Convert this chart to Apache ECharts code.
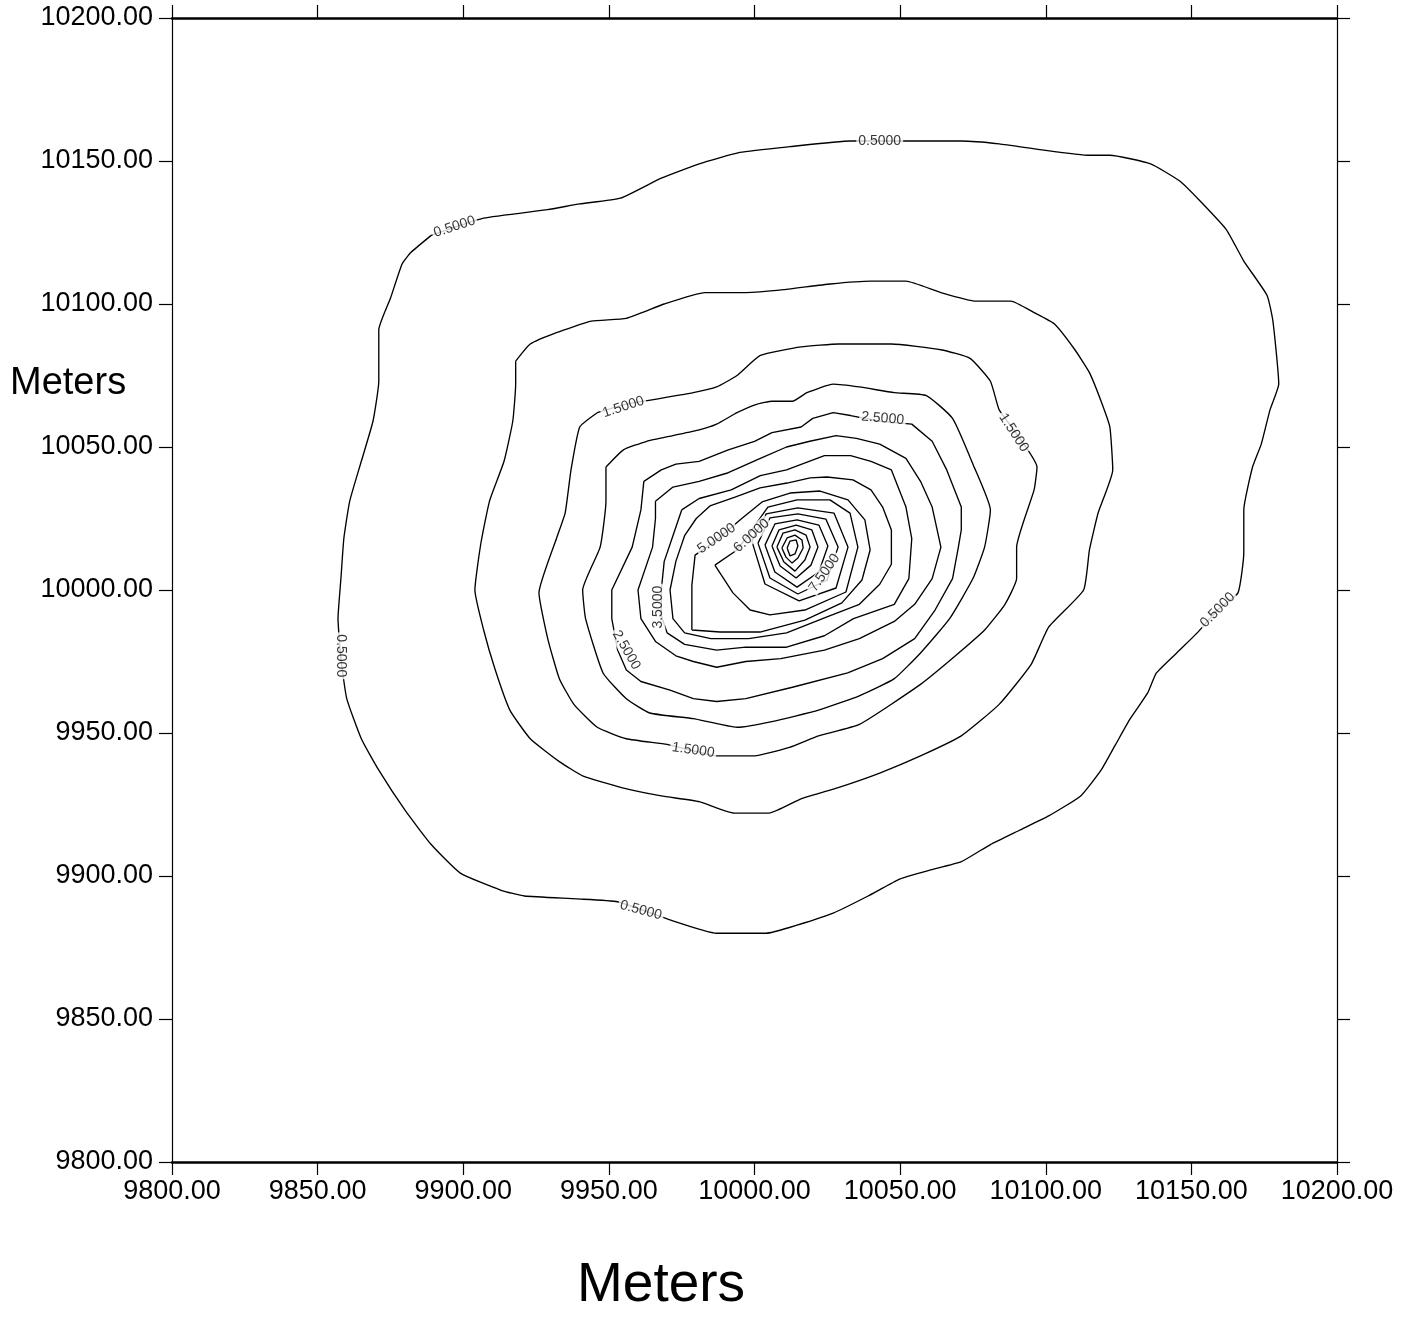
<!DOCTYPE html>
<html><head><meta charset="utf-8">
<script src="https://cdn.jsdelivr.net/npm/echarts@6/dist/echarts.min.js"></script>
<style>html,body{margin:0;padding:0;background:#fff}#chart{width:1416px;height:1333px}</style>
</head><body><div id="chart"></div>
<script>
// ---- axis ticks (meters) ----
const xTickValues = [9800, 9850, 9900, 9950, 10000, 10050, 10100, 10150, 10200];
const yTickValues = [9800, 9850, 9900, 9950, 10000, 10050, 10100, 10150, 10200];
const xAxisTitle = 'Meters';
const yAxisTitle = 'Meters';

// ---- contour rings (x, y in meters), outermost first ----
const ring05 = [[9889,10124],[9907,10130],[9929,10133],[9940,10135],[9954,10137],[9968,10144],[9981,10149],[9995,10153],[10012,10155],[10033,10157],[10050,10157],[10071,10157],[10084,10156],[10098,10154],[10115,10152],[10122,10152],[10136,10149],[10146,10143],[10153,10136],[10162,10126],[10168,10115],[10176,10103],[10178,10094],[10180,10072],[10177,10063],[10174,10051],[10171,10043],[10168,10028],[10168,10013],[10166,9999],[10159,9993],[10152,9985],[10146,9979],[10138,9971],[10135,9964],[10129,9955],[10124,9946],[10119,9937],[10112,9928],[10101,9921],[10091,9916],[10081,9911],[10071,9905],[10060,9902],[10050,9899],[10039,9893],[10027,9887],[10012,9882],[10004,9880],[9987,9880],[9970,9885],[9953,9891],[9939,9892],[9921,9893],[9913,9895],[9899,9901],[9889,9911],[9880,9923],[9871,9937],[9865,9948],[9860,9962],[9858,9976],[9857,9990],[9858,10004],[9859,10018],[9861,10031],[9865,10045],[9869,10059],[9871,10073],[9871,10091],[9875,10102],[9879,10114],[9882,10118],[9889,10124]];
const ring10 = [[9918,10080],[9923,10086],[9932,10090],[9944,10094],[9956,10095],[9969,10100],[9983,10104],[9997,10104],[10010,10105],[10026,10107],[10040,10108],[10052,10108],[10064,10104],[10076,10101],[10088,10101],[10096,10097],[10103,10093],[10110,10084],[10115,10076],[10119,10066],[10122,10057],[10123,10042],[10118,10027],[10115,10014],[10113,10000],[10101,9987],[10095,9974],[10084,9960],[10071,9949],[10057,9942],[10043,9936],[10029,9931],[10016,9927],[10005,9922],[9993,9922],[9981,9926],[9968,9928],[9954,9931],[9941,9935],[9933,9940],[9923,9948],[9916,9958],[9911,9972],[9907,9986],[9904,10000],[9906,10016],[9909,10031],[9914,10045],[9917,10059],[9918,10072],[9918,10080]];
const ring15 = [[9946,10062],[9956,10065],[9962,10066],[9979,10069],[9987,10071],[9994,10075],[10002,10082],[10016,10085],[10029,10086],[10047,10086],[10064,10084],[10074,10081],[10081,10073],[10084,10063],[10089,10056],[10097,10043],[10096,10035],[10090,10015],[10090,10004],[10086,9995],[10079,9986],[10069,9977],[10057,9967],[10036,9953],[10022,9949],[10012,9945],[10000,9942],[9987,9942],[9978,9944],[9970,9946],[9956,9948],[9946,9952],[9938,9960],[9933,9969],[9929,9983],[9926,9999],[9932,10018],[9935,10027],[9937,10042],[9940,10057],[9946,10062]];
const ring20 = [[9949,10043],[9955,10049],[9963,10052],[9972,10054],[9981,10056],[9987,10058],[9994,10062],[10001,10065],[10006,10066],[10013,10066],[10018,10069],[10027,10072],[10036,10071],[10048,10069],[10059,10068],[10068,10060],[10075,10044],[10081,10028],[10079,10015],[10075,10004],[10067,9990],[10057,9978],[10048,9969],[10036,9963],[10022,9958],[10006,9954],[9994,9952],[9979,9955],[9964,9957],[9956,9962],[9948,9971],[9942,9990],[9941,10000],[9947,10015],[9949,10031],[9949,10043]];
const ring25 = [[9962,10038],[9968,10042],[9973,10044],[9981,10045],[9991,10049],[10000,10052],[10006,10055],[10016,10057],[10020,10060],[10027,10062],[10033,10061],[10043,10059],[10054,10058],[10061,10052],[10066,10042],[10071,10029],[10071,10021],[10070,10015],[10068,10004],[10062,9993],[10055,9983],[10044,9976],[10032,9971],[10013,9966],[9997,9962],[9987,9961],[9979,9962],[9971,9965],[9961,9968],[9956,9972],[9953,9979],[9951,9990],[9951,10000],[9958,10015],[9961,10028],[9962,10038]];
const ring30 = [[9966,10031],[9972,10036],[9981,10038],[9991,10041],[10002,10046],[10011,10050],[10019,10052],[10028,10054],[10035,10053],[10043,10051],[10052,10046],[10057,10038],[10061,10029],[10064,10015],[10061,10004],[10055,9995],[10048,9989],[10036,9983],[10024,9979],[10009,9976],[9997,9975],[9987,9973],[9979,9975],[9973,9977],[9966,9982],[9961,9990],[9960,10000],[9965,10015],[9966,10025],[9966,10031]];
const ring35 = [[9975,10028],[9981,10032],[9992,10035],[10002,10040],[10011,10042],[10024,10047],[10033,10047],[10040,10045],[10047,10042],[10052,10029],[10054,10018],[10053,10004],[10048,9995],[10034,9990],[10024,9984],[10011,9980],[9997,9980],[9987,9979],[9976,9981],[9970,9985],[9968,9991],[9968,10000],[9969,10010],[9972,10019],[9975,10028]];
const ring40 = [[9980,10025],[9984.7,10029.4],[9993.3,10032.5],[10001.9,10035.7],[10011.2,10037.4],[10019.1,10039.2],[10024.9,10039.5],[10033.8,10038.5],[10040,10035],[10044,10029],[10047,10021],[10047,10009],[10043,10002],[10036,9995],[10026,9991],[10011,9985],[9998,9983],[9985,9983],[9976,9985],[9972,9990],[9971,10000],[9973,10010],[9976,10019],[9980,10025]];
const ring45 = [[9978.5,9986.0],[9978.5,10001.7],[9979.6,10012.2],[9987.1,10017.5],[9995.0,10024.5],[10002.6,10030.8],[10012.2,10033.9],[10022.5,10034.6],[10032.1,10031.5],[10037.9,10024.5],[10039.7,10014.0],[10036.9,10003.5],[10030.0,9995.5],[10017.3,9989.5],[10001.9,9985.3],[9988.2,9985.3],[9978.5,9986.0]];
const ring50 = [[9986.4,10008.7],[9994.0,10014.0],[9997.8,10019.2],[10004.6,10029.0],[10014.6,10031.5],[10025.9,10031.5],[10032.8,10026.9],[10035.5,10015.0],[10031.4,9999.3],[10017.3,9993.0],[10005.3,9991.3],[9998.5,9993.0],[9992.6,9999.0],[9986.4,10008.7]];
const ring55 = [[9999.1,10017.1],[10004.0,10026.6],[10014.9,10028.7],[10027.3,10026.9],[10032.1,10015.0],[10028.0,10000.7],[10015.3,9996.2],[10003.6,10002.1],[9999.1,10017.1]];
const ring60 = [[10001.2,10016.4],[10005.3,10025.2],[10014.9,10026.6],[10024.5,10024.8],[10028.7,10015.0],[10024.9,10003.5],[10014.9,9998.6],[10005.3,10004.2],[10001.2,10016.4]];
const ring65 = [[10003.6,10015.7],[10007.0,10023.1],[10014.6,10024.5],[10022.1,10022.7],[10025.2,10015.4],[10022.1,10006.3],[10014.6,10001.0],[10007.0,10006.3],[10003.6,10015.7]];
const ring70 = [[10006.0,10015.4],[10008.4,10021.0],[10014.3,10022.7],[10019.7,10021.0],[10021.8,10015.0],[10019.4,10008.7],[10014.3,10004.2],[10008.8,10008.4],[10006.0,10015.4]];
const ring75 = [[10007.7,10015.0],[10009.8,10019.9],[10013.9,10021.0],[10017.7,10019.2],[10019.1,10015.0],[10017.3,10010.5],[10013.9,10006.6],[10010.1,10009.8],[10007.7,10015.0]];
const ring80 = [[10009.4,10014.7],[10011.2,10018.2],[10013.9,10019.2],[10016.3,10017.5],[10016.7,10014.7],[10014.9,10011.2],[10012.9,10009.4],[10010.8,10011.5],[10009.4,10014.7]];
const ring85 = [[10011.2,10014.7],[10012.2,10017.1],[10014.3,10017.5],[10014.9,10015.4],[10013.9,10012.6],[10012.2,10011.9],[10011.2,10014.7]];
const rings = [ring05, ring10, ring15, ring20, ring25, ring30, ring35, ring40, ring45, ring50, ring55, ring60, ring65, ring70, ring75, ring80, ring85];

// ---- contour labels ----
const labelText = ['0.5000','0.5000','0.5000','0.5000','0.5000','1.5000','1.5000','1.5000','2.5000','2.5000','3.5000','5.0000','6.0000','7.5000'];
const labelX    = [9897, 10043, 10159, 9858, 9961, 9955, 10089, 9979, 10044, 9956, 9967, 9987, 9999, 10024];
const labelY    = [10127, 10157, 9993, 9977, 9888, 10064, 10055, 9944, 10060, 9979, 9994, 10018, 10019, 10006];
const labelRot  = [18, 0, 45, -90, -15, 18, -57, -8, -5, -60, 90, 34, 42, 55];

const chart = echarts.init(document.getElementById('chart'), null, {renderer: 'canvas'});
const FONT = 'Liberation Sans, Arial, sans-serif';
const fmt = v => v.toFixed(2);

const series = rings.map((r, i) => ({
  type: 'line', name: 'contour ' + (i + 1), data: r, xAxisIndex: 0, yAxisIndex: 0,
  symbol: 'none', showSymbol: false, silent: true, smooth: i < 4 ? 0.15 : false,
  lineStyle: {color: '#000', width: 1.35}, z: 2
}));
series.push({
  type: 'scatter', name: 'labels', xAxisIndex: 0, yAxisIndex: 0, symbolSize: 2,
  itemStyle: {color: 'rgba(0,0,0,0)'}, silent: true, z: 5,
  labelLayout: {hideOverlap: false},
  data: labelText.map((t, i) => ({name: t, value: [labelX[i], labelY[i]],
    label: {show: true, rotate: labelRot[i]}})),
  label: {show: true, position: 'inside', formatter: p => p.name, fontFamily: FONT, fontSize: 14,
          color: '#000', backgroundColor: '#fff', padding: [0, 2]}
});

const axisCommon = {
  type: 'value', min: 9800, max: 10200, interval: 50, splitLine: {show: false},
  axisTick: {show: true, inside: false, length: 13, lineStyle: {color: '#000', width: 1.2}}
};

chart.setOption({
  animation: false,
  backgroundColor: '#fff',
  grid: {left: 172, right: 79, top: 18, bottom: 171, containLabel: false},
  xAxis: [
    Object.assign({}, axisCommon, {position: 'bottom',
      axisLine: {show: true, onZero: false, lineStyle: {color: '#000', width: 2.5}},
      axisLabel: {show: true, margin: 16, formatter: fmt, fontFamily: FONT, fontSize: 27, color: '#000'}}),
    Object.assign({}, axisCommon, {position: 'top',
      axisLine: {show: true, onZero: false, lineStyle: {color: '#000', width: 2.5}},
      axisLabel: {show: false}})
  ],
  yAxis: [
    Object.assign({}, axisCommon, {position: 'left',
      axisLine: {show: true, onZero: false, lineStyle: {color: '#000', width: 1.2}},
      axisLabel: {show: true, margin: 19, formatter: fmt, fontFamily: FONT, fontSize: 27, color: '#000'}}),
    Object.assign({}, axisCommon, {position: 'right',
      axisLine: {show: true, onZero: false, lineStyle: {color: '#000', width: 1.2}},
      axisLabel: {show: false}})
  ],
  graphic: [
    {type: 'text', left: 10, top: 365, style: {text: yAxisTitle, font: '38px ' + FONT, fill: '#000'}},
    {type: 'text', left: 577, top: 1258, style: {text: xAxisTitle, font: '55px ' + FONT, fill: '#000'}}
  ],
  series: series
});
</script>
</body></html>
